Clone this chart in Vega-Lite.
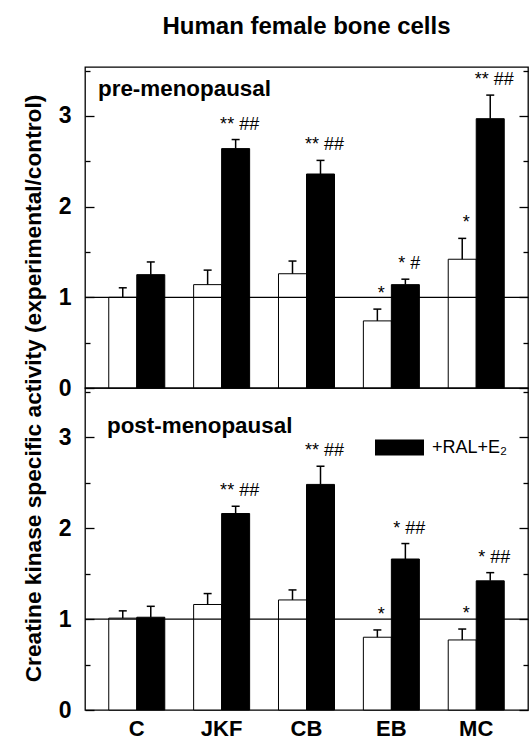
{
  "$schema": "https://vega.github.io/schema/vega-lite/v6.json",
  "background": "white",
  "padding": {"left": 21, "top": 14, "right": 0, "bottom": 0},
  "title": {"text": "Human female bone cells", "fontSize": 24, "fontWeight": "bold", "font": "Liberation Sans", "anchor": "middle", "frame": "group", "offset": 1, "baseline": "alphabetic", "color": "black"},
  "datasets": {
    "pre": [
      {"cat": "C", "grp": "E₂", "value": 1.0, "top": 1.105, "sig": ""},
      {"cat": "C", "grp": "+RAL+E₂", "value": 1.25, "top": 1.39, "sig": ""},
      {"cat": "JKF", "grp": "E₂", "value": 1.14, "top": 1.3, "sig": ""},
      {"cat": "JKF", "grp": "+RAL+E₂", "value": 2.64, "top": 2.74, "sig": "**  ##"},
      {"cat": "CB", "grp": "E₂", "value": 1.26, "top": 1.4, "sig": ""},
      {"cat": "CB", "grp": "+RAL+E₂", "value": 2.36, "top": 2.51, "sig": "**  ##"},
      {"cat": "EB", "grp": "E₂", "value": 0.74, "top": 0.87, "sig": "*"},
      {"cat": "EB", "grp": "+RAL+E₂", "value": 1.14, "top": 1.2, "sig": "*  #"},
      {"cat": "MC", "grp": "E₂", "value": 1.42, "top": 1.65, "sig": "*"},
      {"cat": "MC", "grp": "+RAL+E₂", "value": 2.97, "top": 3.23, "sig": "**  ##"}
    ],
    "post": [
      {"cat": "C", "grp": "E₂", "value": 1.01, "top": 1.09, "sig": ""},
      {"cat": "C", "grp": "+RAL+E₂", "value": 1.02, "top": 1.14, "sig": ""},
      {"cat": "JKF", "grp": "E₂", "value": 1.16, "top": 1.28, "sig": ""},
      {"cat": "JKF", "grp": "+RAL+E₂", "value": 2.16, "top": 2.24, "sig": "**  ##"},
      {"cat": "CB", "grp": "E₂", "value": 1.21, "top": 1.32, "sig": ""},
      {"cat": "CB", "grp": "+RAL+E₂", "value": 2.48, "top": 2.68, "sig": "**  ##"},
      {"cat": "EB", "grp": "E₂", "value": 0.8, "top": 0.88, "sig": "*"},
      {"cat": "EB", "grp": "+RAL+E₂", "value": 1.66, "top": 1.83, "sig": "*  ##"},
      {"cat": "MC", "grp": "E₂", "value": 0.77, "top": 0.89, "sig": "*"},
      {"cat": "MC", "grp": "+RAL+E₂", "value": 1.42, "top": 1.51, "sig": "*  ##"}
    ],
    "ref": [{"ref": 1}]
  },
  "spacing": 0,
  "bounds": "flush",
  "resolve": {"scale": {"fill": "independent"}, "legend": {"fill": "independent"}},
  "vconcat": [
    {
      "width": 443,
      "height": 321,
      "title": {"text": "pre-menopausal", "anchor": "start", "frame": "group", "orient": "top", "offset": -59, "baseline": "alphabetic", "dx": 13, "fontSize": 22.4, "fontWeight": "bold", "font": "Liberation Sans", "color": "black"},
      "resolve": {"axis": {"y": "independent"}},
      "layer": [
        {
          "data": {"name": "pre"},
          "mark": {"type": "bar", "stroke": "black", "strokeWidth": 1},
          "encoding": {
            "x": {"field": "cat", "type": "nominal", "sort": ["C", "JKF", "CB", "EB", "MC"], "scale": {"paddingInner": 0.34, "paddingOuter": 0.28}, "axis": null},
            "xOffset": {"field": "grp", "type": "nominal", "sort": ["E₂", "+RAL+E₂"], "scale": {"paddingInner": 0, "paddingOuter": 0}},
            "y": {"field": "value", "type": "quantitative", "scale": {"domain": [0, 3.54], "nice": false, "zero": true},
              "axis": {"orient": "left", "values": [0, 0.5, 1, 1.5, 2, 2.5, 3, 3.5], "labelExpr": "datum.value % 1 === 0 ? format(datum.value, 'd') : ''", "tickSize": {"condition": {"test": "datum.value % 1 === 0", "value": -9}, "value": -5}, "domain": false, "grid": false, "labelFontSize": 23, "labelFontWeight": "bold", "labelPadding": 23, "labelFlush": false, "labelOverlap": false,
                "title": "Creatine kinase specific activity (experimental/control)", "titleFontSize": 22.7, "titleFontWeight": "bold", "titleX": -45, "titleY": 321, "titleAngle": -90, "titleAlign": "center", "titleBaseline": "alphabetic"}},
            "fill": {"field": "grp", "type": "nominal", "scale": {"domain": ["E₂", "+RAL+E₂"], "range": ["white", "black"]}, "legend": null}
          }
        },
        {
          "data": {"name": "pre"},
          "mark": {"type": "rule", "strokeWidth": 1.5, "color": "black"},
          "encoding": {
            "x": {"field": "cat", "type": "nominal", "sort": ["C", "JKF", "CB", "EB", "MC"], "axis": null},
            "xOffset": {"field": "grp", "type": "nominal", "sort": ["E₂", "+RAL+E₂"]},
            "y": {"field": "value", "type": "quantitative", "axis": null},
            "y2": {"field": "top"}
          }
        },
        {
          "data": {"name": "pre"},
          "mark": {"type": "tick", "size": 8, "thickness": 1.5, "color": "black", "opacity": 1},
          "encoding": {
            "x": {"field": "cat", "type": "nominal", "sort": ["C", "JKF", "CB", "EB", "MC"], "axis": null},
            "xOffset": {"field": "grp", "type": "nominal", "sort": ["E₂", "+RAL+E₂"]},
            "y": {"field": "top", "type": "quantitative", "axis": null}
          }
        },
        {
          "data": {"name": "pre"},
          "transform": [{"filter": "datum.sig !== ''"}],
          "mark": {"type": "text", "fontSize": 18, "dy": -10, "dx": 4, "baseline": "alphabetic", "align": "center", "color": "black"},
          "encoding": {
            "x": {"field": "cat", "type": "nominal", "sort": ["C", "JKF", "CB", "EB", "MC"], "axis": null},
            "xOffset": {"field": "grp", "type": "nominal", "sort": ["E₂", "+RAL+E₂"]},
            "y": {"field": "top", "type": "quantitative", "axis": null},
            "text": {"field": "sig"}
          }
        },
        {
          "data": {"name": "ref"},
          "mark": {"type": "rule", "strokeWidth": 1.3, "color": "black"},
          "encoding": {
            "y": {"field": "ref", "type": "quantitative",
              "axis": {"orient": "right", "values": [0, 0.5, 1, 1.5, 2, 2.5, 3, 3.5], "labels": false, "tickSize": {"condition": {"test": "datum.value % 1 === 0", "value": -9}, "value": -5}, "domain": false, "grid": false, "title": null}}
          }
        }
      ]
    },
    {
      "width": 443,
      "height": 322,
      "title": {"text": "post-menopausal", "anchor": "start", "frame": "group", "orient": "top", "offset": -75, "baseline": "alphabetic", "dx": 22, "fontSize": 22.4, "fontWeight": "bold", "font": "Liberation Sans", "color": "black"},
      "resolve": {"axis": {"y": "independent"}},
      "layer": [
        {
          "data": {"name": "post"},
          "mark": {"type": "bar", "stroke": "black", "strokeWidth": 1},
          "encoding": {
            "x": {"field": "cat", "type": "nominal", "sort": ["C", "JKF", "CB", "EB", "MC"], "scale": {"paddingInner": 0.34, "paddingOuter": 0.28},
              "axis": {"orient": "bottom", "ticks": false, "domain": false, "labelFontSize": 22, "labelFontWeight": "bold", "labelPadding": 8, "labelAngle": 0, "title": null}},
            "xOffset": {"field": "grp", "type": "nominal", "sort": ["E₂", "+RAL+E₂"], "scale": {"paddingInner": 0, "paddingOuter": 0}},
            "y": {"field": "value", "type": "quantitative", "scale": {"domain": [0, 3.54], "nice": false, "zero": true},
              "axis": {"orient": "left", "values": [0, 0.5, 1, 1.5, 2, 2.5, 3, 3.5], "labelExpr": "datum.value % 1 === 0 ? format(datum.value, 'd') : ''", "tickSize": {"condition": {"test": "datum.value % 1 === 0", "value": -9}, "value": -5}, "domain": false, "grid": false, "labelFontSize": 23, "labelFontWeight": "bold", "labelPadding": 23, "labelFlush": false, "labelOverlap": false, "title": null}},
            "fill": {"field": "grp", "type": "nominal", "scale": {"domain": ["E₂", "+RAL+E₂"], "range": ["white", "black"]},
              "legend": {"orient": "none", "legendX": 290, "legendY": 35, "values": ["+RAL+E₂"], "title": null, "symbolType": "M-1,-0.33H1V0.33H-1Z", "symbolSize": 2401, "symbolStrokeWidth": 0, "labelFontSize": 18, "labelFont": "Liberation Sans", "labelColor": "black", "labelOffset": 8}}
          }
        },
        {
          "data": {"name": "post"},
          "mark": {"type": "rule", "strokeWidth": 1.5, "color": "black"},
          "encoding": {
            "x": {"field": "cat", "type": "nominal", "sort": ["C", "JKF", "CB", "EB", "MC"], "axis": {"orient": "bottom", "ticks": false, "domain": false, "labelFontSize": 22, "labelFontWeight": "bold", "labelPadding": 8, "labelAngle": 0, "title": null}},
            "xOffset": {"field": "grp", "type": "nominal", "sort": ["E₂", "+RAL+E₂"]},
            "y": {"field": "value", "type": "quantitative", "axis": null},
            "y2": {"field": "top"}
          }
        },
        {
          "data": {"name": "post"},
          "mark": {"type": "tick", "size": 8, "thickness": 1.5, "color": "black", "opacity": 1},
          "encoding": {
            "x": {"field": "cat", "type": "nominal", "sort": ["C", "JKF", "CB", "EB", "MC"], "axis": {"orient": "bottom", "ticks": false, "domain": false, "labelFontSize": 22, "labelFontWeight": "bold", "labelPadding": 8, "labelAngle": 0, "title": null}},
            "xOffset": {"field": "grp", "type": "nominal", "sort": ["E₂", "+RAL+E₂"]},
            "y": {"field": "top", "type": "quantitative", "axis": null}
          }
        },
        {
          "data": {"name": "post"},
          "transform": [{"filter": "datum.sig !== ''"}],
          "mark": {"type": "text", "fontSize": 18, "dy": -10, "dx": 4, "baseline": "alphabetic", "align": "center", "color": "black"},
          "encoding": {
            "x": {"field": "cat", "type": "nominal", "sort": ["C", "JKF", "CB", "EB", "MC"], "axis": {"orient": "bottom", "ticks": false, "domain": false, "labelFontSize": 22, "labelFontWeight": "bold", "labelPadding": 8, "labelAngle": 0, "title": null}},
            "xOffset": {"field": "grp", "type": "nominal", "sort": ["E₂", "+RAL+E₂"]},
            "y": {"field": "top", "type": "quantitative", "axis": null},
            "text": {"field": "sig"}
          }
        },
        {
          "data": {"name": "ref"},
          "mark": {"type": "rule", "strokeWidth": 1.3, "color": "black"},
          "encoding": {
            "y": {"field": "ref", "type": "quantitative",
              "axis": {"orient": "right", "values": [0, 0.5, 1, 1.5, 2, 2.5, 3, 3.5], "labels": false, "tickSize": {"condition": {"test": "datum.value % 1 === 0", "value": -9}, "value": -5}, "domain": false, "grid": false, "title": null}}
          }
        }
      ]
    }
  ],
  "config": {
    "font": "Liberation Sans",
    "text": {"font": "Liberation Sans"},
    "view": {"stroke": "black", "strokeWidth": 1.3},
    "axis": {"labelFont": "Liberation Sans", "titleFont": "Liberation Sans", "labelColor": "black", "titleColor": "black", "tickColor": "black", "tickWidth": 1.3},
    "legend": {"labelFont": "Liberation Sans"},
    "title": {"font": "Liberation Sans", "color": "black"}
  }
}
